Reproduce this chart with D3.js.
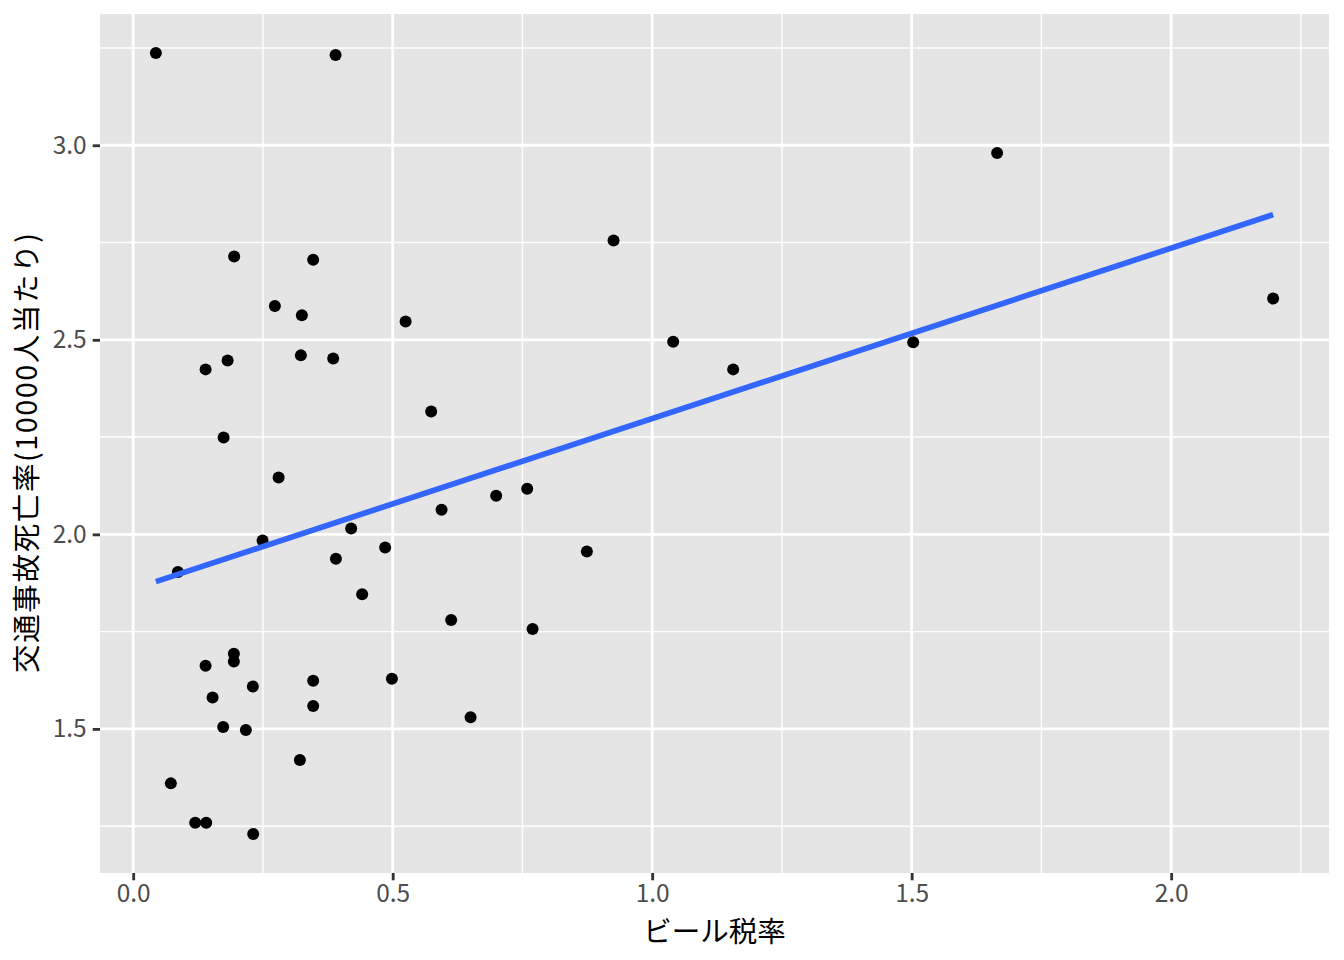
<!DOCTYPE html>
<html>
<head>
<meta charset="utf-8">
<script src="https://cdn.jsdelivr.net/npm/d3@7"></script>
<style>
  html, body { margin: 0; padding: 0; background: #ffffff; }
  svg { display: block; }
</style>
</head>
<body>
<svg id="chart" width="1344" height="960"></svg>
<script>
// Beer tax (x) and traffic fatality rate per 10000 (y)
const beerTax = [
  0.0437, 0.390, 1.6647, 0.9256, 0.1946, 0.3468, 0.2730, 0.3250, 0.5249, 2.1965,
  1.0405, 1.5029, 0.1819, 0.1395, 0.3231, 0.3854, 1.1561, 0.5742, 0.1742, 0.2802,
  0.6994, 0.7592, 0.5942, 0.4200, 0.2493, 0.4855, 0.8742, 0.3906, 0.0861, 0.4412,
  0.6127, 0.7696, 0.1940, 0.1940, 0.1395, 0.3468, 0.4985, 0.2306, 0.1530, 0.3468,
  0.6501, 0.1734, 0.2171, 0.3212, 0.0726, 0.1195, 0.1407, 0.2312
];
const fatalRate = [
  3.237, 3.232, 2.980, 2.755, 2.714, 2.706, 2.587, 2.563, 2.547, 2.606,
  2.495, 2.494, 2.447, 2.424, 2.460, 2.452, 2.424, 2.316, 2.249, 2.146,
  2.099, 2.117, 2.063, 2.015, 1.984, 1.966, 1.956, 1.937, 1.903, 1.846,
  1.780, 1.757, 1.693, 1.673, 1.662, 1.624, 1.629, 1.609, 1.581, 1.559,
  1.530, 1.505, 1.497, 1.420, 1.360, 1.259, 1.259, 1.230
];
const xTicks = [0, 0.5, 1.0, 1.5, 2.0];
const xTickLabels = ["0.0", "0.5", "1.0", "1.5", "2.0"];
const yTicks = [1.5, 2.0, 2.5, 3.0];
const yTickLabels = ["1.5", "2.0", "2.5", "3.0"];
const xMinor = [0.25, 0.75, 1.25, 1.75, 2.25];
const yMinor = [1.25, 1.75, 2.25, 2.75, 3.25];
const xTitle = "ビール税率";
const yTitle = "交通事故死亡率(10000人当たり)";

const points = beerTax.map((x, i) => ({ x: x, y: fatalRate[i] }));

const panel = { left: 100, right: 1329, top: 14, bottom: 873 };
const font = "'Noto Sans CJK JP', 'Noto Sans', sans-serif";

function expand(ext) {
  const d = (ext[1] - ext[0]) * 0.05;
  return [ext[0] - d, ext[1] + d];
}
const xExt = d3.extent(beerTax);
const yExt = d3.extent(fatalRate);
const x = d3.scaleLinear().domain(expand(xExt)).range([panel.left, panel.right]);
const y = d3.scaleLinear().domain(expand(yExt)).range([panel.bottom, panel.top]);

const svg = d3.select("#chart");

svg.append("rect")
  .attr("x", panel.left).attr("y", panel.top)
  .attr("width", panel.right - panel.left)
  .attr("height", panel.bottom - panel.top)
  .attr("fill", "#E5E5E5");

const grid = svg.append("g");
grid.selectAll(".xminor").data(xMinor).join("line")
  .attr("x1", d => x(d)).attr("x2", d => x(d))
  .attr("y1", panel.top).attr("y2", panel.bottom)
  .attr("stroke", "#ffffff").attr("stroke-width", 1.42);
grid.selectAll(".yminor").data(yMinor).join("line")
  .attr("y1", d => y(d)).attr("y2", d => y(d))
  .attr("x1", panel.left).attr("x2", panel.right)
  .attr("stroke", "#ffffff").attr("stroke-width", 1.42);
grid.selectAll(".xmajor").data(xTicks).join("line")
  .attr("x1", d => x(d)).attr("x2", d => x(d))
  .attr("y1", panel.top).attr("y2", panel.bottom)
  .attr("stroke", "#ffffff").attr("stroke-width", 2.84);
grid.selectAll(".ymajor").data(yTicks).join("line")
  .attr("y1", d => y(d)).attr("y2", d => y(d))
  .attr("x1", panel.left).attr("x2", panel.right)
  .attr("stroke", "#ffffff").attr("stroke-width", 2.84);

// points
svg.append("g").selectAll("circle").data(points).join("circle")
  .attr("cx", d => x(d.x)).attr("cy", d => y(d.y))
  .attr("r", 6).attr("fill", "#000000");

// OLS fit line
const mx = d3.mean(beerTax), my = d3.mean(fatalRate);
let sxy = 0, sxx = 0;
points.forEach(p => { sxy += (p.x - mx) * (p.y - my); sxx += (p.x - mx) * (p.x - mx); });
const slope = sxy / sxx;
const intercept = my - slope * mx;
const fit = xExt.map(v => ({ x: v, y: intercept + slope * v }));
svg.append("path")
  .datum(fit)
  .attr("d", d3.line().x(d => x(d.x)).y(d => y(d.y)))
  .attr("fill", "none")
  .attr("stroke", "#3366FF")
  .attr("stroke-width", 5.7);

// axes
const xAxis = d3.axisBottom(x).tickValues(xTicks)
  .tickFormat((d, i) => xTickLabels[i]).tickSize(7.3).tickPadding(4);
const gx = svg.append("g").attr("transform", `translate(0,${panel.bottom})`).call(xAxis);
gx.select(".domain").remove();
gx.selectAll(".tick line").attr("stroke", "#333333").attr("stroke-width", 2.84);
gx.selectAll(".tick text")
  .attr("fill", "#4D4D4D")
  .style("font-family", font).style("font-size", "24.5px");

const yAxis = d3.axisLeft(y).tickValues(yTicks)
  .tickFormat((d, i) => yTickLabels[i]).tickSize(7.3).tickPadding(6);
const gy = svg.append("g").attr("transform", `translate(${panel.left},0)`).call(yAxis);
gy.select(".domain").remove();
gy.selectAll(".tick line").attr("stroke", "#333333").attr("stroke-width", 2.84);
gy.selectAll(".tick text")
  .attr("fill", "#4D4D4D")
  .style("font-family", font).style("font-size", "24.5px");

// titles
svg.append("text")
  .attr("x", (panel.left + panel.right) / 2)
  .attr("y", 942)
  .attr("text-anchor", "middle")
  .style("font-family", font).style("font-size", "28.5px")
  .attr("fill", "#000000")
  .text(xTitle);

svg.append("text")
  .attr("transform", `translate(37,453) rotate(-90)`)
  .attr("text-anchor", "middle")
  .attr("textLength", 440)
  .attr("lengthAdjust", "spacing")
  .style("font-family", font).style("font-size", "28.5px")
  .attr("fill", "#000000")
  .text(yTitle);
</script>
</body>
</html>
